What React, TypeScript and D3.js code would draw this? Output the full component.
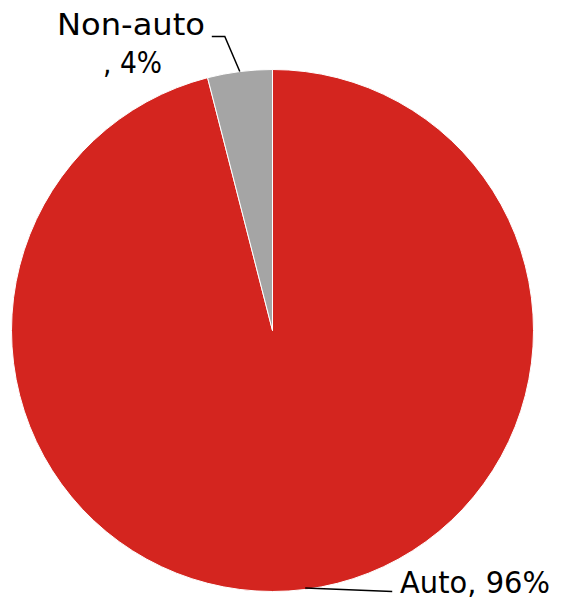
import React from "react";
import * as d3 from "d3";

const categories = ["Auto", "Non-auto"];
const values = [96, 4];
const colors = ["#D4251F", "#A5A5A5"];

const W = 561;
const H = 601;
const cx = 272.5;
const cy = 330.5;
const R = 261;

export default function App() {
  const pie = d3.pie<number>().sort(null).value((d) => d)(values);
  const arc = d3.arc<d3.PieArcDatum<number>>().innerRadius(0).outerRadius(R);
  const edge = d3.arc<d3.PieArcDatum<number>>().innerRadius(R).outerRadius(R);
  const font = "'DejaVu Sans', sans-serif";

  const autoA = edge.centroid(pie[0]);
  const nonA = edge.centroid(pie[1]);

  return (
    <svg
      width={W}
      height={H}
      style={{ position: "absolute", left: 0, top: 0, display: "block" }}
    >
      <g transform={`translate(${cx},${cy})`}>
        {pie.map((p, i) => (
          <path key={categories[i]} d={arc(p) || ""} fill={colors[i]} stroke="#fff" strokeWidth={1} />
        ))}
        {/* Non-auto leader */}
        <polyline
          points={`${nonA[0]},${nonA[1]} ${nonA[0] - 15},${nonA[1] - 35} ${nonA[0] - 28},${nonA[1] - 35}`}
          fill="none"
          stroke="#000"
          strokeWidth={1.5}
        />
        {/* Auto leader */}
        <polyline
          points={`${autoA[0]},${autoA[1] - 1.5} ${autoA[0] + 87},${autoA[1] + 2}`}
          fill="none"
          stroke="#000"
          strokeWidth={1.5}
        />
      </g>
      <text
        x={131}
        y={35}
        textAnchor="middle"
        fontFamily={font}
        fontSize={31}
        textLength={148}
        lengthAdjust="spacingAndGlyphs"
        fill="#000"
      >
        {categories[1]}
      </text>
      <text
        x={132.5}
        y={73}
        textAnchor="middle"
        fontFamily={font}
        fontSize={31}
        textLength={59}
        lengthAdjust="spacingAndGlyphs"
        fill="#000"
      >
        {`, ${values[1]}%`}
      </text>
      <text
        x={400}
        y={593}
        fontFamily={font}
        fontSize={31}
        textLength={150}
        lengthAdjust="spacingAndGlyphs"
        fill="#000"
      >
        {`${categories[0]}, ${values[0]}%`}
      </text>
    </svg>
  );
}
